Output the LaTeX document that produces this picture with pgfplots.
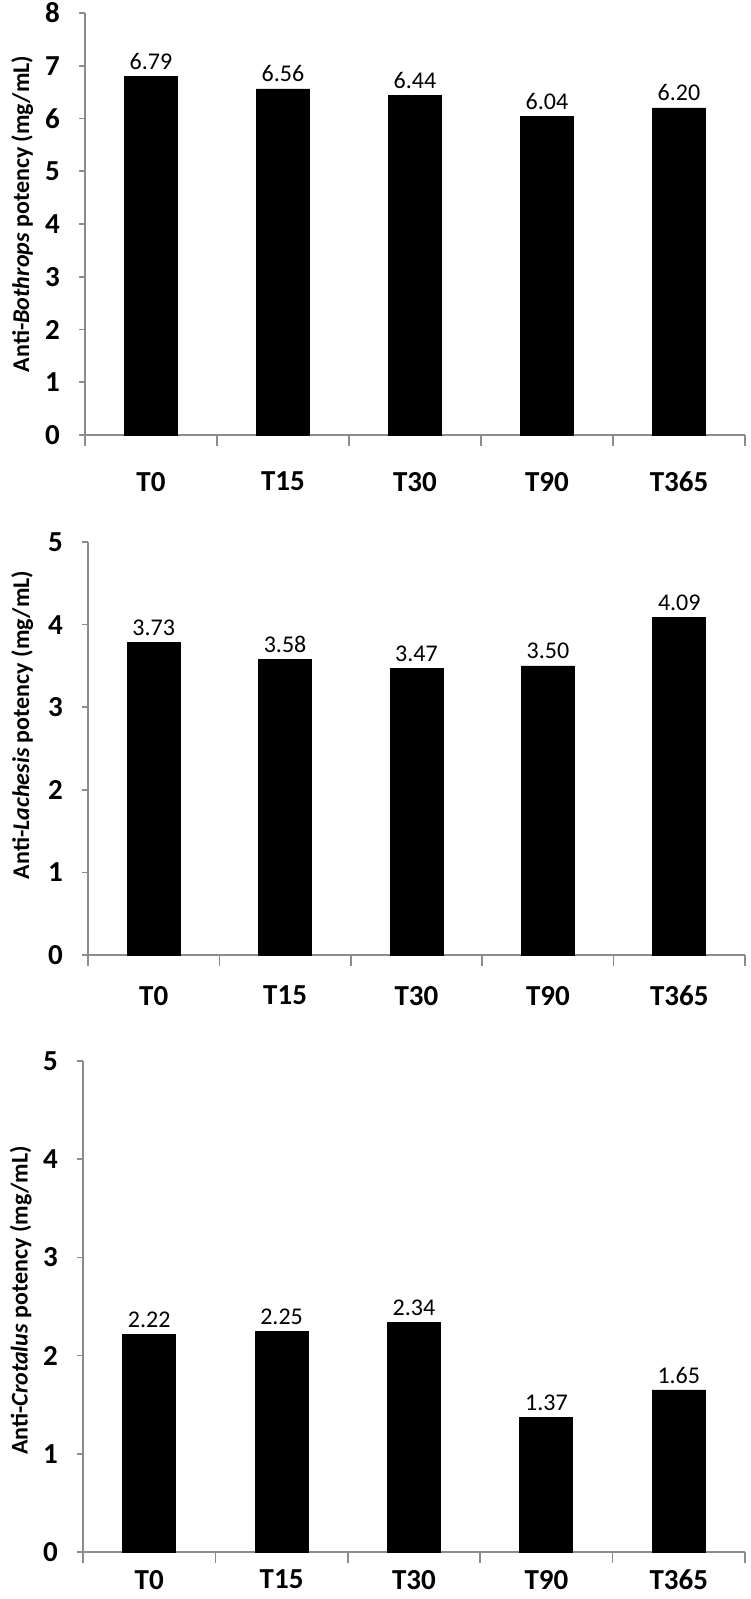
\documentclass[border=0pt]{standalone}
\usepackage{pgfplots}
\pgfplotsset{compat=1.18}
\usepackage{fontspec}
\setmainfont{Carlito}
\definecolor{axgray}{HTML}{8C8C8C}
\pgfplotsset{
  panel/.style={
    scale only axis,
    ybar, bar width=26.5pt,
    axis x line*=bottom, axis y line*=left,
    axis line style={axgray, line width=0.8pt},
    xmin=-0.5, xmax=4.5, ymin=0,
    xtick={0,1,2,3,4},
    xticklabels={T0,T15,T30,T90,T365},
    major x tick style={draw=none},
    minor xtick={-0.5,0.5,1.5,2.5,3.5,4.5},
    minor x tick style={axgray, line width=0.8pt},
    minor tick length=5.5pt,
    major tick length=3pt,
    y tick style={axgray, line width=0.8pt},
    tick align=outside,
    /pgf/number format/assume math mode=true,
    tick label style={font=\bfseries\fontsize{14.5}{16}\selectfont},
    yticklabel style={xshift=-6pt},
    ylabel style={font=\bfseries\fontsize{12}{14}\selectfont, rotate=0, anchor=center},
    nodes near coords,
    point meta=explicit symbolic,
    nodes near coords style={font=\fontsize{12}{14}\selectfont, text=black, anchor=south, inner sep=3.2pt},
    clip=false,
  }
}
\begin{document}
\begin{tikzpicture}
\useasboundingbox (0,0) rectangle (375pt,-799.5pt);
% Panel 1
\begin{axis}[panel,
  at={(42.5pt,-217.5pt)}, anchor=south west,
  width=330pt, height=211pt,
  ymax=8, ytick={0,1,2,3,4,5,6,7,8},
  xticklabel style={yshift=-12pt},
  ylabel={Anti-\textit{Bothrops} potency (mg/mL)},
  ylabel style={at={(axis description cs:-0.095,0.524)}},
]
\addplot[fill=black, draw=black] coordinates {(0,6.79) [6.79] (1,6.56) [6.56] (2,6.44) [6.44] (3,6.04) [6.04] (4,6.20) [6.20]};
\end{axis}
% Panel 2
\begin{axis}[panel,
  at={(44pt,-477.5pt)}, anchor=south west,
  width=328.5pt, height=206.5pt,
  ymax=5, ytick={0,1,2,3,4,5},
  xticklabel style={yshift=-9pt},
  ylabel={Anti-\textit{Lachesis} potency (mg/mL)},
  ylabel style={at={(axis description cs:-0.1,0.557)}},
]
\addplot[fill=black, draw=black] coordinates {(0,3.78) [3.73] (1,3.58) [3.58] (2,3.47) [3.47] (3,3.50) [3.50] (4,4.09) [4.09]};
\end{axis}
% Panel 3
\begin{axis}[panel,
  at={(41.5pt,-776pt)}, anchor=south west,
  width=331pt, height=245.5pt,
  ymax=5, ytick={0,1,2,3,4,5},
  xticklabel style={yshift=-2.5pt},
  ylabel={Anti-\textit{Crotalus} potency (mg/mL)},
  ylabel style={at={(axis description cs:-0.094,0.512)}},
]
\addplot[fill=black, draw=black] coordinates {(0,2.22) [2.22] (1,2.25) [2.25] (2,2.34) [2.34] (3,1.37) [1.37] (4,1.65) [1.65]};
\end{axis}
\end{tikzpicture}
\end{document}
